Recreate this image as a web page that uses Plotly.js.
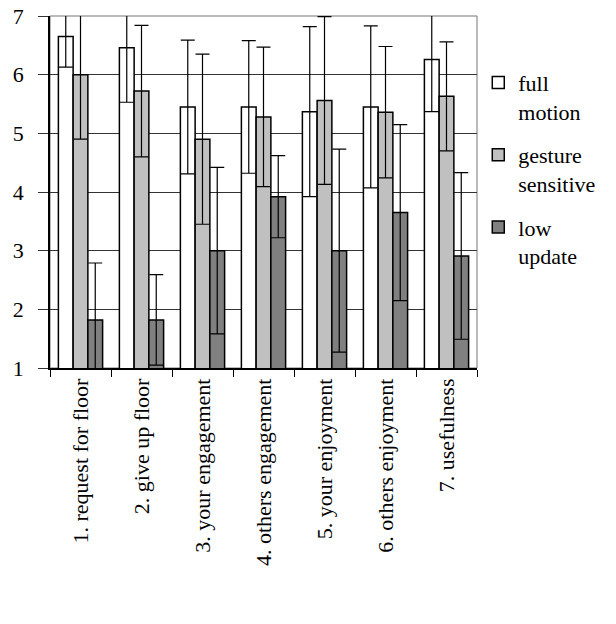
<!DOCTYPE html>
<html>
<head>
<meta charset="utf-8">
<script src="https://cdn.plot.ly/plotly-3.0.1.min.js"></script>
<style>
html,body{margin:0;padding:0;background:#fff;}
#chart svg text{font-family:"Liberation Serif","Times New Roman","DejaVu Serif",serif !important;}
</style>
</head>
<body>
<div id="chart"></div>
<script>
const categories = ["1. request for floor", "2. give up floor", "3. your engagement", "4. others engagement", "5. your enjoyment", "6. others enjoyment", "7. usefulness"];
const seriesNames = ["full<br>motion", "gesture<br>sensitive", "low<br>update"];
const fullMotion = [6.65, 6.46, 5.45, 5.45, 5.37, 5.45, 6.26];
const fullMotionSd = [0.52, 0.93, 1.14, 1.13, 1.45, 1.38, 0.89];
const gestureSensitive = [6.0, 5.72, 4.9, 5.28, 5.56, 5.36, 5.63];
const gestureSensitiveSd = [1.1, 1.12, 1.45, 1.19, 1.43, 1.12, 0.93];
const lowUpdate = [1.82, 1.82, 3.0, 3.92, 3.0, 3.65, 2.91];
const lowUpdateSd = [0.97, 0.77, 1.42, 0.70, 1.73, 1.5, 1.42];
const yTicks = [1, 2, 3, 4, 5, 6, 7];

const colors = ["#ffffff", "#c0c0c0", "#808080"];
const values = [fullMotion, gestureSensitive, lowUpdate];
const sds = [fullMotionSd, gestureSensitiveSd, lowUpdateSd];

const FAMILY = "Liberation Serif, Times New Roman, serif";

const traces = values.map((v, i) => ({
  type: "bar",
  name: seriesNames[i],
  legendgroup: "g" + i,
  x: categories,
  y: v,
  marker: {color: colors[i], line: {color: "#000", width: 1.5}},
  error_y: {type: "data", array: sds[i], visible: true, color: "#000", thickness: 1.2, width: 7}
}));

const layout = {
  width: 616, height: 624,
  margin: {l: 50, r: 139, t: 16, b: 256},
  paper_bgcolor: "#fff", plot_bgcolor: "#fff",
  font: {family: FAMILY, size: 22, color: "#000"},
  barmode: "group", bargap: 0.275, bargroupgap: 0,
  showlegend: true,
  legend: {x: 1.003, xanchor: "left", y: 0.87, yanchor: "top", valign: "top",
           tracegroupgap: 12, bgcolor: "rgba(0,0,0,0)",
           font: {family: FAMILY, size: 22, color: "#000"}},
  xaxis: {
    type: "category", showgrid: false, zeroline: false,
    showline: true, linecolor: "#000", linewidth: 1.5,
    ticks: "outside", tickson: "boundaries", ticklen: 7, tickcolor: "#000", tickwidth: 1,
    tickangle: -90,
    tickfont: {family: FAMILY, size: 22, color: "#000"}
  },
  yaxis: {
    range: [1, 7], tickvals: yTicks,
    showgrid: true, gridcolor: "#333", gridwidth: 1, zeroline: false,
    showline: true, linecolor: "#000", linewidth: 1.5,
    ticks: "outside", ticklen: 10, tickcolor: "#333", tickwidth: 1,
    ticklabelstandoff: 10,
    tickfont: {family: FAMILY, size: 22, color: "#000"}
  },
  shapes: [{type: "rect", xref: "paper", yref: "paper", x0: 0, x1: 1, y0: 0, y1: 1,
            line: {color: "#777", width: 1}, layer: "below"}]
};

Plotly.newPlot("chart", traces, layout, {displayModeBar: false});
</script>
</body>
</html>
